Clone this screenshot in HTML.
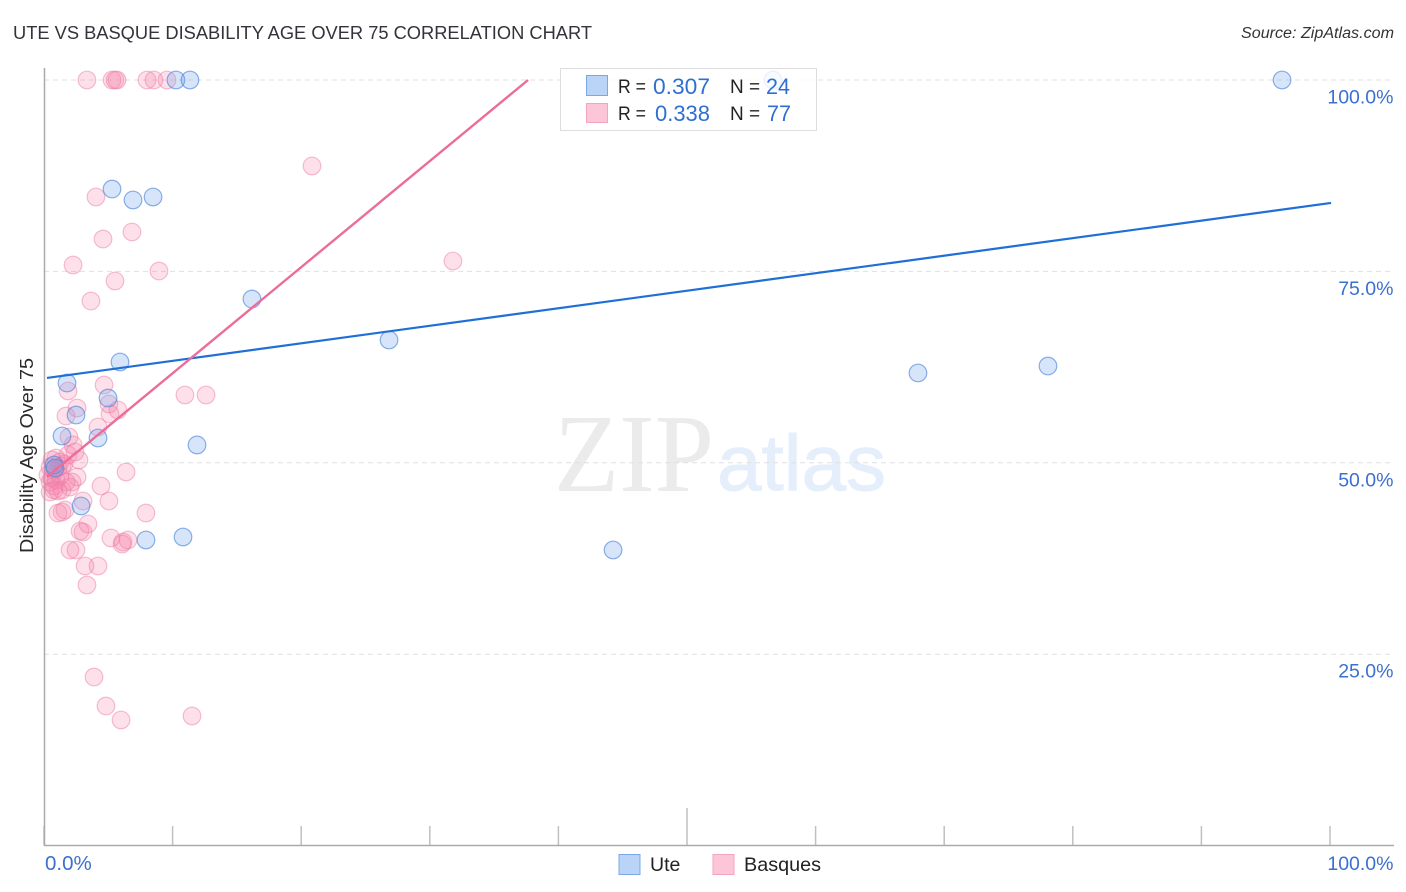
<!DOCTYPE html>
<html lang="en">
<head>
<meta charset="utf-8">
<title>Ute vs Basque Disability Age Over 75 Correlation Chart</title>
<style>
html,body{margin:0;padding:0;background:#fff;width:1406px;height:892px;overflow:hidden}
svg{display:block}
text{font-family:"Liberation Sans",sans-serif}
</style>
</head>
<body>
<svg id="chart" width="1406" height="892" viewBox="0 0 1406 892" xmlns="http://www.w3.org/2000/svg">
  <text x="13" y="39" font-size="18.5" fill="#33333b" textLength="579" lengthAdjust="spacingAndGlyphs">UTE VS BASQUE DISABILITY AGE OVER 75 CORRELATION CHART</text>
  <text x="1394" y="38" font-size="15.5" font-style="italic" fill="#333" text-anchor="end" textLength="153" lengthAdjust="spacingAndGlyphs">Source: ZipAtlas.com</text>
  <g>
    <text x="554" y="491" style="font-family:'Liberation Serif',serif" font-size="111" fill="#ebebeb" textLength="160" lengthAdjust="spacingAndGlyphs">ZIP</text>
    <text x="717" y="490" font-size="79" fill="#e5eefb" stroke="#e5eefb" stroke-width="1" textLength="169" lengthAdjust="spacingAndGlyphs">atlas</text>
  </g>
  <g id="grid"></g>
  <g id="axes"></g>
  <text transform="translate(33,553) rotate(-90)" font-size="18" fill="#2a2a2a" textLength="195" lengthAdjust="spacingAndGlyphs">Disability Age Over 75</text>
  <g id="points"></g>
  <g id="lines"></g>
  <g>
    <rect x="560.5" y="68.5" width="256" height="62" fill="#fff" fill-opacity="0.82" stroke="#ddd"/>
    <rect x="586.5" y="75.5" width="21" height="20" fill="#b9d4f7" stroke="#7aa7e6"/>
    <rect x="586.5" y="103.5" width="21" height="19" fill="#fcc6d8" stroke="#f3a5c0"/>
    <text x="618" y="93" font-size="19" fill="#222" textLength="28" lengthAdjust="spacingAndGlyphs">R =</text>
    <text x="653" y="94" font-size="22" fill="#2f6fd0" textLength="57" lengthAdjust="spacingAndGlyphs">0.307</text>
    <text x="730" y="93" font-size="19" fill="#222">N =</text>
    <text x="766" y="94" font-size="22" fill="#2f6fd0" textLength="24" lengthAdjust="spacingAndGlyphs">24</text>
    <text x="618" y="120" font-size="19" fill="#222" textLength="28" lengthAdjust="spacingAndGlyphs">R =</text>
    <text x="655" y="121" font-size="22" fill="#2f6fd0" textLength="55" lengthAdjust="spacingAndGlyphs">0.338</text>
    <text x="730" y="120" font-size="19" fill="#222">N =</text>
    <text x="767" y="121" font-size="22" fill="#2f6fd0" textLength="24" lengthAdjust="spacingAndGlyphs">77</text>
  </g>
  <g>
    <rect x="619" y="854.5" width="21" height="20" fill="#b9d4f7" stroke="#7aa7e6"/>
    <text x="650" y="871" font-size="19.5" fill="#222">Ute</text>
    <rect x="713" y="854.5" width="21" height="20" fill="#fcc6d8" stroke="#f3a5c0"/>
    <text x="744" y="871" font-size="19.5" fill="#222" textLength="77" lengthAdjust="spacingAndGlyphs">Basques</text>
  </g>
</svg>
<script>
const uteX = [96.27,56.69,10.26,11.35,5.29,6.92,8.48,16.17,26.83,67.96,78.07,5.91,1.79,4.98,2.49,1.40,4.20,11.90,2.88,7.93,10.81,44.25,0.78,0.86];
const uteY = [100,100,100,100,85.76,84.33,84.72,71.39,66.04,61.73,62.64,63.17,60.42,58.46,56.24,53.50,53.24,52.33,44.36,39.92,40.31,38.61,49.71,49.32];
const basquesX = [3.34,5.29,5.52,5.68,8.01,8.55,9.56,20.84,31.80,4.04,4.59,6.84,2.26,5.52,8.94,3.65,4.67,1.87,10.96,12.60,2.57,5.05,5.75,5.13,1.71,4.20,1.94,2.26,2.41,1.87,2.72,6.38,2.57,4.43,5.05,3.03,2.18,2.02,1.40,1.09,1.63,1.40,1.09,3.42,2.80,3.03,2.02,2.49,5.21,6.07,6.14,6.53,7.93,3.19,4.20,3.34,3.89,4.82,5.99,11.51,0.62,0.93,1.24,1.56,0.47,0.78,1.09,1.40,0.62,0.93,0.47,0.78,1.24,1.71,0.47,0.78,0.31];
const basquesY = [100,100,100,100,100,100,100,88.77,76.36,84.72,79.23,80.15,75.84,73.75,75.05,71.13,60.16,59.38,58.86,58.86,57.16,57.68,56.90,56.37,56.11,54.68,53.37,52.33,51.41,51.02,50.37,48.80,48.15,46.97,45.01,45.01,47.49,46.84,46.45,46.32,43.84,43.57,43.44,42.01,41.09,40.96,38.61,38.61,40.18,39.39,39.65,39.92,43.44,36.52,36.52,34.04,22.02,18.23,16.41,16.93,50.37,50.63,50.10,49.84,49.45,49.06,49.32,49.58,48.01,47.75,47.49,46.97,48.28,47.49,46.19,46.45,48.41];
const uteFitX = [0.23,100.08];
const uteFitY = [61.08,83.94];
const basquesFitX = [0.23,37.64];
const basquesFitY = [48.15,100];
const yTickValues = [100,75,50,25];
const yTickLabels = ["100.0%","75.0%","50.0%","25.0%"];
const xTickValues = [0,10,20,30,40,50,60,70,80,90,100];
const xEdgeValues = [0,100];
const xEdgeLabels = ["0.0%","100.0%"];

const NS = "http://www.w3.org/2000/svg";
function sx(v){ return 44 + v * 12.86; }
function sy(v){ return 845.6 - v * 7.656; }
function make(tag, parent, attrs){
  const el = document.createElementNS(NS, tag);
  for (const k in attrs) el.setAttribute(k, attrs[k]);
  document.getElementById(parent).appendChild(el);
  return el;
}

yTickValues.forEach(function(v, i){
  const g = make("line", "grid", {x1:44, x2:1394, y1:sy(v), y2:sy(v), stroke:"#e0e0e0", "stroke-width":1, "stroke-dasharray":"5 4"});
  
  
  const t = make("text", "axes", {x:1393.5, y:sy(v) + 23.5, "font-size":19.5, fill:"#3b70cf", "text-anchor":"end"});
  t.textContent = yTickLabels[i];
  
  
});

xTickValues.forEach(function(v){
  const top = v === 50 ? 808 : 826;
  const l = make("line", "axes", {x1:sx(v), x2:sx(v), y1:top, y2:845, stroke:"#c0c0c0", "stroke-width":1.5});
  
  
});

const xAxisLine = make("line", "axes", {x1:44, x2:1394, y1:845.5, y2:845.5, stroke:"#aaa", "stroke-width":1.5});


const yAxisLine = make("line", "axes", {x1:44.5, x2:44.5, y1:68, y2:846, stroke:"#aaa", "stroke-width":1.5});



xEdgeValues.forEach(function(v, i){
  const t = make("text", "axes", {x: i === 0 ? sx(v) + 1 : sx(v) + 63.5, y:870, "font-size": i === 0 ? 20.5 : 19.5, fill:"#3b70cf", "text-anchor": i === 0 ? "start" : "end"});
  t.textContent = xEdgeLabels[i];
  
  
});

basquesX.forEach(function(v, i){
  const c = make("circle", "points", {cx:sx(v), cy:sy(basquesY[i]), r:8.8, fill:"#f67fa8", "fill-opacity":0.24, stroke:"#ee7fa6", "stroke-opacity":0.5, "stroke-width":1.2});
  
  
});
uteX.forEach(function(v, i){
  const c = make("circle", "points", {cx:sx(v), cy:sy(uteY[i]), r:8.8, fill:"#6fa3ec", "fill-opacity":0.28, stroke:"#4f86dc", "stroke-opacity":0.65, "stroke-width":1.2});
  
  
});

const uteLine = make("line", "lines", {x1:sx(uteFitX[0]), y1:sy(uteFitY[0]), x2:sx(uteFitX[1]), y2:sy(uteFitY[1]), stroke:"#1f6fd6", "stroke-width":2.2});


const basquesLine = make("line", "lines", {x1:sx(basquesFitX[0]), y1:sy(basquesFitY[0]), x2:sx(basquesFitX[1]), y2:sy(basquesFitY[1]), stroke:"#ec6c9a", "stroke-width":2.4});


</script>
</body>
</html>
